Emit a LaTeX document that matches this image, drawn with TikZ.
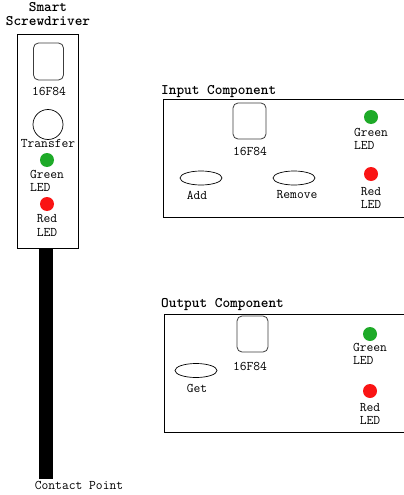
\documentclass[tikz,border=0pt]{standalone}
\usepackage{fontspec}
\usetikzlibrary{shapes.geometric}
\definecolor{ledgreen}{RGB}{30,170,40}
\definecolor{ledred}{RGB}{250,20,20}
\definecolor{chipline}{RGB}{60,60,60}
\begin{document}
\begin{tikzpicture}[x=1pt,y=-1pt,
  lbl/.style={font=\ttfamily\fontsize{13.2}{13.2}\selectfont, inner sep=0pt, align=center},
  ttl/.style={font=\ttfamily\fontsize{14.6}{14.6}\selectfont\bfseries, inner sep=0pt, align=center},
  panel/.style={draw=black, line width=0.7pt, inner sep=0pt},
  chip/.style={draw=chipline, line width=0.8pt, rounded corners=5pt, inner sep=0pt},
  ledg/.style={circle, fill=ledgreen, minimum size=14pt, inner sep=0pt},
  ledr/.style={circle, fill=ledred, minimum size=14pt, inner sep=0pt},
  btn/.style={ellipse, draw=black, line width=0.7pt, inner sep=0pt, minimum width=42pt, minimum height=14pt}]
\clip (0,0) rectangle (404,495);
\fill[white] (0,0) rectangle (404,495);
% Screwdriver
\node[ttl] (sdtitle) at (48,14) {Smart\\Screwdriver};
\node[fill=black, minimum width=14pt, minimum height=231pt, inner sep=0pt] (shaft) at (45.5,363) {};
\node[panel, fill=white, minimum width=61pt, minimum height=214pt] (sdbox) at (47.5,141) {};
\node[chip, minimum width=30pt, minimum height=37pt] (sdchip) at (48.5,61.5) {};
\node[lbl] (sdchiplbl) at (49,91) {16F84};
\node[circle, draw=black, line width=0.7pt, minimum size=30pt, inner sep=0pt] (transfer) at (48,124.5) {};
\node[lbl] (transferlbl) at (48,143) {Transfer};
\node[ledg] (sdg) at (47,160) {};
\node[lbl, align=left] (sdglbl) at (47,180.5) {Green\\LED};
\node[ledr] (sdr) at (47,204) {};
\node[lbl] (sdrlbl) at (47,225.5) {Red\\LED};
\node[lbl] (contact) at (79,485) {Contact Point};
% Input component
\node[ttl, anchor=west] (intitle) at (161,92) {Input Component};
\node[panel, minimum width=260pt, minimum height=118pt] (inbox) at (293,158) {};
\node[chip, minimum width=33pt, minimum height=36pt] (inchip) at (249.5,121) {};
\node[lbl] (inchiplbl) at (250,151) {16F84};
\node[btn] (add) at (201,178) {};
\node[lbl] (addlbl) at (197,195) {Add};
\node[btn] (remove) at (294,178) {};
\node[lbl] (removelbl) at (297,195) {Remove};
\node[ledg] (ing) at (371,117) {};
\node[lbl, align=left] (inglbl) at (371,138.5) {Green\\LED};
\node[ledr] (inr) at (371,174) {};
\node[lbl] (inrlbl) at (371,198) {Red\\LED};
% Output component
\node[ttl, anchor=west] (outtitle) at (161,305) {Output Component};
\node[panel, minimum width=260pt, minimum height=118pt] (outbox) at (294,373) {};
\node[chip, minimum width=31pt, minimum height=36pt] (outchip) at (252.5,334) {};
\node[lbl] (outchiplbl) at (250,366) {16F84};
\node[btn] (get) at (196,370.5) {};
\node[lbl] (getlbl) at (197,388) {Get};
\node[ledg] (outg) at (370,334) {};
\node[lbl, align=left] (outglbl) at (370,353.5) {Green\\LED};
\node[ledr] (outr) at (370,391) {};
\node[lbl] (outrlbl) at (370,414) {Red\\LED};
\end{tikzpicture}
\end{document}
